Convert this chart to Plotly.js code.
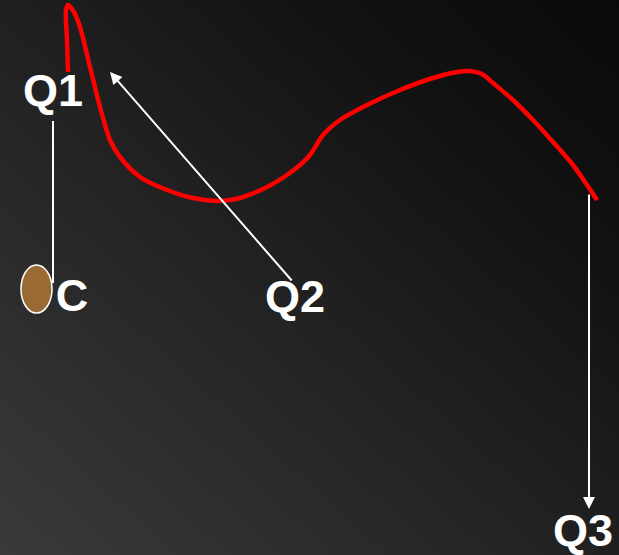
<!DOCTYPE html>
<html>
<head>
<meta charset="utf-8">
<script src="https://cdn.plot.ly/plotly-3.0.1.min.js"></script>
<style>
html,body{margin:0;padding:0;background:#1a1a1a;}
#chart{width:619px;height:555px;background:linear-gradient(to top right,#3a3a3a 0%,#252525 40%,#121212 75%,#0a0a0a 100%);}
</style>
</head>
<body>
<div id="chart"></div>
<script>
// Red curve (drawing coordinates, y downward)
const curveX = [68, 67, 66, 68, 74, 80, 90, 100, 110, 120, 140, 167, 193, 220, 240, 267, 287, 300, 310, 323, 340, 367, 400, 433, 457, 470, 482, 493, 513, 533, 553, 573, 587, 597];
const curveY = [72, 40, 10, 5, 12, 27, 67, 107, 140, 157, 177, 190, 198, 201, 198, 187, 175, 165, 155, 135, 120, 105, 90, 78, 72, 71, 74, 83, 100, 120, 142, 165, 185, 200];

// Q1 connector line
const q1LineX = [53, 53];
const q1LineY = [121, 283];

// Arrows: [tailX, tailY, headX, headY]
const arrowTailX = [293, 589];
const arrowTailY = [282, 193];
const arrowHeadX = [110, 589];
const arrowHeadY = [72, 509];

// Ellipse C
const ellipseX = [21, 52];
const ellipseY = [265, 313];

// Labels
const labelText = ["Q1", "C", "Q2", "Q3"];
const labelX = [53, 72, 295, 583];
const labelY = [95, 300, 301, 535];

const traces = [
  {x: curveX, y: curveY, type: 'scatter', mode: 'lines',
   line: {color: '#ff0000', width: 4.5, shape: 'spline', smoothing: 0.8}, hoverinfo: 'skip'},
  {x: q1LineX, y: q1LineY, type: 'scatter', mode: 'lines',
   line: {color: '#ffffff', width: 2}, hoverinfo: 'skip'},
  {x: labelX, y: labelY, type: 'scatter', mode: 'text', text: labelText,
   textposition: 'middle center',
   textfont: {family: 'Liberation Sans, Arial, sans-serif', size: 45, color: '#ffffff', weight: 'bold'},
   hoverinfo: 'skip'}
];

const annotations = arrowTailX.map((tx, i) => ({
  x: arrowHeadX[i], y: arrowHeadY[i], ax: tx, ay: arrowTailY[i],
  xref: 'x', yref: 'y', axref: 'x', ayref: 'y',
  text: '', showarrow: true, arrowhead: 2, arrowsize: 1.2, arrowwidth: 2, arrowcolor: '#ffffff'
}));

const layout = {
  width: 619, height: 555,
  margin: {l: 0, r: 0, t: 0, b: 0},
  paper_bgcolor: 'rgba(0,0,0,0)', plot_bgcolor: 'rgba(0,0,0,0)',
  showlegend: false,
  xaxis: {range: [0, 619], visible: false, fixedrange: true},
  yaxis: {range: [555, 0], visible: false, fixedrange: true},
  shapes: [{type: 'circle', xref: 'x', yref: 'y',
    x0: ellipseX[0], x1: ellipseX[1], y0: ellipseY[0], y1: ellipseY[1],
    fillcolor: '#9a6a35', line: {color: '#ffffff', width: 1.5}}],
  annotations: annotations
};

Plotly.newPlot('chart', traces, layout, {staticPlot: true, displayModeBar: false});
</script>
</body>
</html>
